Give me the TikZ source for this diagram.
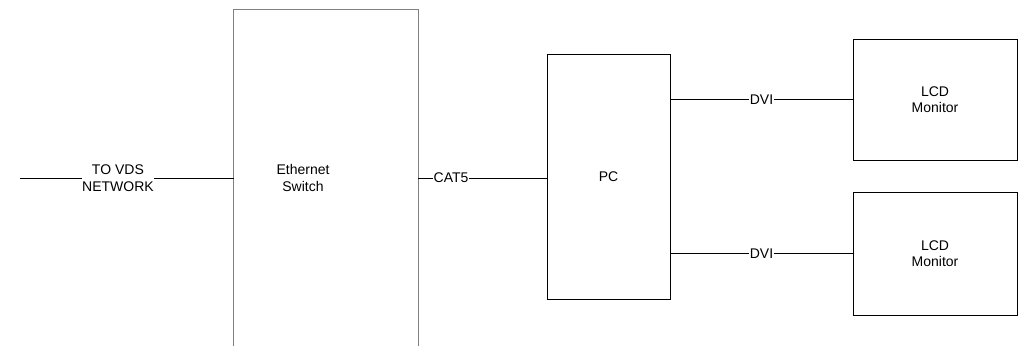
\documentclass[tikz,border=0pt]{standalone}
\usepackage{fontspec}
\setmainfont{Liberation Sans}
\usetikzlibrary{positioning}

\begin{document}
\begin{tikzpicture}[
    x=1pt, y=-1pt,
    box/.style={draw, line width=1pt, inner sep=0pt, font=\fontsize{14}{16.5}\selectfont, align=center},
    data/.style={fill=white, inner xsep=0.5pt, inner ysep=1pt, font=\fontsize{14}{17}\selectfont, align=center},
    link/.style={line width=1pt},
]
\useasboundingbox (0,0) rectangle (1020,346);

% Ethernet switch (open at the bottom)
\node[minimum width=184pt, minimum height=336pt, inner sep=0pt] (switch) at (326,178) {};
\draw[line width=1pt, gray] (switch.south west) -- (switch.north west) -- (switch.north east) -- (switch.south east);
\node[font=\fontsize{14}{17}\selectfont, align=center] (switchtxt) at (303,178) {Ethernet\\Switch};

% PC
\node[box, minimum width=123pt, minimum height=245pt] (pc) at (608.5,176.5) {PC};

% Monitors
\node[box, minimum width=164pt, minimum height=121pt] (mon1) at (935,99.5) {LCD\\Monitor};
\node[box, minimum width=164pt, minimum height=123pt] (mon2) at (935,253.5) {LCD\\Monitor};

% Network
\coordinate (vds) at (20,178);
\draw[link] (vds) -- node[data, pos=0.458] {TO VDS\\NETWORK} (switch.west);

% Cables
\draw[link] (switch.east) -- node[data, pos=0.256] {CAT5} (switch.east -| pc.west);
\draw[link] (mon1.west -| pc.east) -- node[data] {DVI} (mon1.west);
\draw[link] (mon2.west -| pc.east) -- node[data] {DVI} (mon2.west);

\end{tikzpicture}
\end{document}
